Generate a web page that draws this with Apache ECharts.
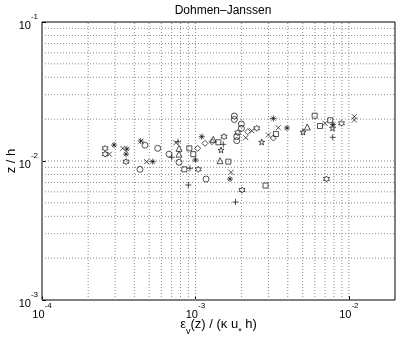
<!DOCTYPE html>
<html><head><meta charset="utf-8">
<script src="https://cdn.jsdelivr.net/npm/echarts@6/dist/echarts.min.js"></script>
<style>html,body{margin:0;padding:0;background:#fff}#c{width:400px;height:342px}</style>
</head><body><div id="c"></div>
<script>
const chartTitle = 'Dohmen–Janssen';
const xTicks = [1e-4, 1e-3, 1e-2];
const yTicks = [1e-3, 1e-2, 1e-1];

const circles = [[4.69e-4,1.30e-2],[4.35e-4,8.71e-3],[5.68e-4,1.233e-2],[6.73e-4,1.12e-2],[7.82e-4,9.79e-3],[1.173e-3,7.42e-3],[1.793e-3,2.107e-2],[1.793e-3,1.989e-2],[1.992e-3,1.845e-2],[1.992e-3,1.719e-2],[1.859e-3,1.496e-2],[1.859e-3,1.400e-2]];
const crosses = [[2.75e-4,1.12e-2],[3.36e-4,1.233e-2],[4.42e-4,1.39e-2],[4.81e-4,9.89e-3],[7.47e-4,1.354e-2],[2.128e-3,1.471e-2],[2.328e-3,1.652e-2],[1.707e-3,8.29e-3],[3.47e-3,1.736e-2],[2.99e-3,1.539e-2],[7.00e-3,1.867e-2],[1.086e-2,2.084e-2],[1.086e-2,1.972e-2]];
const pluses = [[4.40e-4,1.393e-2],[7.01e-4,1.063e-2],[7.70e-4,1.376e-2],[9.22e-4,8.86e-3],[8.99e-4,6.72e-3],[1.52e-3,1.318e-2],[1.826e-3,5.07e-3],[7.85e-3,1.481e-2]];
const asterisks = [[2.95e-4,1.303e-2],[3.57e-4,1.22e-2],[3.53e-4,1.12e-2],[5.27e-4,9.89e-3],[1.00e-3,1.017e-2],[1.10e-3,1.496e-2],[1.681e-3,7.42e-3],[3.22e-3,2.022e-2],[3.95e-3,1.728e-2],[7.89e-3,1.83e-2]];
const squares = [[9.13e-4,1.233e-2],[9.69e-4,1.12e-2],[8.47e-4,8.71e-3],[1.411e-3,1.363e-2],[1.639e-3,9.89e-3],[3.35e-3,1.564e-2],[2.864e-3,6.66e-3],[5.99e-3,2.118e-2],[6.49e-3,1.786e-2],[7.57e-3,1.963e-2]];
const diamonds = [[1.035e-3,1.233e-2],[1.155e-3,1.34e-2],[1.283e-3,1.376e-2],[2.193e-3,1.625e-2],[3.22e-3,1.464e-2]];
const triangles = [[7.82e-4,1.233e-2],[7.82e-4,1.12e-2],[1.308e-3,1.432e-2],[1.447e-3,1.005e-2],[5.36e-3,1.757e-2]];
const hexagrams = [[2.58e-4,1.233e-2],[2.58e-4,1.12e-2],[3.53e-4,9.89e-3],[1.044e-3,8.71e-3],[1.536e-3,1.496e-2],[1.887e-3,1.598e-2],[2.013e-3,6.18e-3],[2.51e-3,1.719e-2],[8.96e-3,1.867e-2],[7.15e-3,7.42e-3]];
const pentagrams = [[1.469e-3,1.20e-2],[2.705e-3,1.37e-2],[5.03e-3,1.617e-2],[7.83e-3,1.728e-2]];

const SYM = {
  circle: 'path://M10,0A10,10,0,1,1,10,20A10,10,0,1,1,10,0Z',
  cross: 'path://M0,0L20,20M20,0L0,20',
  plus: 'path://M10,0L10,20M0,10L20,10',
  asterisk: 'path://M10,0L10,20M0,10L20,10M3,3L17,17M17,3L3,17',
  square: 'path://M0,0L20,0L20,20L0,20Z',
  diamond: 'path://M10,0L20,10L10,20L0,10Z',
  triangle: 'path://M10,0L20,17L0,17Z',
  hexagram: 'path://M8.66,0L11.547,5L17.32,5L14.434,10L17.32,15L11.547,15L8.66,20L5.773,15L0,15L2.887,10L0,5L5.773,5Z',
  pentagram: 'path://M10,0L12.245,6.91L19.51,6.91L13.633,11.18L15.878,18.09L10,13.82L4.122,18.09L6.367,11.18L0.49,6.91L7.755,6.91Z'
};

const FONT = 'Liberation Sans, Arial, Helvetica, sans-serif';
const X_MIN = 1e-4, X_MAX = 0.02, Y_MIN = 1e-3, Y_MAX = 1e-1;

function mk(data, sym, size) {
  return {
    type: 'scatter', data: data, symbol: SYM[sym], symbolSize: size, silent: true, z: 3,
    itemStyle: { color: 'rgba(0,0,0,0)', borderColor: '#111', borderWidth: 0.9 }
  };
}

// dotted grid lines at 1..9 x each decade
const xGrid = [], yGrid = [];
for (let e = -4; e <= -2; e++) for (let m = 1; m <= 9; m++) { const v = m * Math.pow(10, e); if (v < X_MAX * 0.999) xGrid.push(v); }
for (let e = -3; e <= -2; e++) for (let m = 1; m <= 9; m++) yGrid.push(m * Math.pow(10, e));

function gridLine(pts) {
  return {
    type: 'line', data: pts, symbol: 'none', silent: true, z: 1, animation: false,
    lineStyle: { type: [1, 2], color: '#8a8a8a', width: 1 }
  };
}

function isTick(v, arr) { return arr.some(t => Math.abs(Math.log10(v) - Math.log10(t)) < 1e-6); }
function powLabel(v, arr) {
  if (!isTick(v, arr)) return '';
  const e = Math.round(Math.log10(v));
  return '{b|10}{s|' + e + '}';
}
const richLbl = {
  b: { fontSize: 11, fontFamily: FONT, color: '#000', verticalAlign: 'bottom', lineHeight: 18 },
  s: { fontSize: 8, fontFamily: FONT, color: '#000', verticalAlign: 'top', lineHeight: 18 }
};

const series = [];
xGrid.forEach(v => series.push(gridLine([[v, Y_MIN], [v, Y_MAX]])));
yGrid.forEach(v => series.push(gridLine([[X_MIN, v], [X_MAX, v]])));
series.push(
  mk(circles, 'circle', 6),
  mk(crosses, 'cross', 5),
  mk(pluses, 'plus', 6),
  mk(asterisks, 'asterisk', 6),
  mk(squares, 'square', 5),
  mk(diamonds, 'diamond', 6),
  mk(triangles, 'triangle', 6),
  mk(hexagrams, 'hexagram', 6),
  mk(pentagrams, 'pentagram', 6)
);

const chart = echarts.init(document.getElementById('c'), null, { renderer: 'canvas' });
chart.setOption({
  animation: false,
  backgroundColor: '#fff',
  title: {
    text: chartTitle, left: 218, top: 0, textAlign: 'center',
    textStyle: { fontFamily: FONT, fontSize: 12, fontWeight: 'normal', color: '#000' }
  },
  grid: { left: 42, right: 5, top: 22, bottom: 42, show: true, borderColor: '#000', borderWidth: 1, backgroundColor: 'transparent', outerBoundsMode: 'none', containLabel: false },
  xAxis: {
    type: 'log', logBase: 10, min: X_MIN, max: X_MAX,
    name: '{a|ε}{u|v}{a|(z) / (κ u}{u|*}{a| h)}',
    nameLocation: 'middle', nameGap: 18, nameMoveOverlap: false,
    nameTextStyle: {
      verticalAlign: 'top',
      rich: {
        a: { fontSize: 13, fontFamily: FONT, color: '#000', verticalAlign: 'top', lineHeight: 18 },
        u: { fontSize: 9, fontFamily: FONT, color: '#000', verticalAlign: 'bottom', lineHeight: 18 }
      }
    },
    axisLine: { show: false },
    axisTick: { show: true, inside: true, length: 4, lineStyle: { color: '#000' } },
    splitLine: { show: false },
    axisLabel: { margin: 2, formatter: v => powLabel(v, xTicks), rich: richLbl, showMaxLabel: false }
  },
  yAxis: {
    type: 'log', logBase: 10, min: Y_MIN, max: Y_MAX,
    name: 'z / h', nameLocation: 'middle', nameGap: 24, nameRotate: 90, nameMoveOverlap: false,
    nameTextStyle: { fontSize: 13, fontFamily: FONT, color: '#000' },
    axisLine: { show: false },
    axisTick: { show: true, inside: true, length: 4, lineStyle: { color: '#000' } },
    splitLine: { show: false },
    axisLabel: { margin: 4, formatter: v => powLabel(v, yTicks), rich: richLbl }
  },
  series: series
});
</script>
</body></html>
